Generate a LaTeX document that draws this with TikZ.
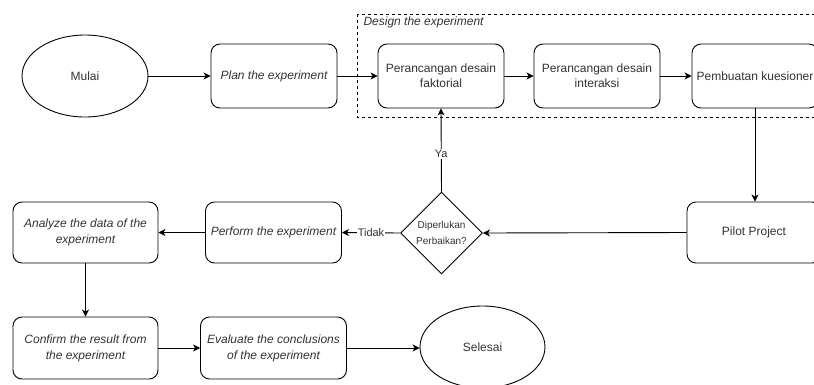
\documentclass[tikz,border=0pt]{standalone}
\usepackage{fontspec}
\setmainfont{Liberation Sans}
\usetikzlibrary{shapes.geometric,arrows.meta}
\definecolor{txt}{HTML}{333333}
\tikzset{
  every node/.style={font=\fontsize{12pt}{15pt}\selectfont, text=txt, align=center},
  boxstyle/.style={draw=black, line width=0.9pt, rounded corners=9pt, fill=white, inner sep=1pt},
  ellstyle/.style={draw=black, line width=0.9pt, ellipse, fill=white, inner sep=0pt},
  diastyle/.style={draw=black, line width=0.9pt, diamond, fill=white, inner sep=0pt, minimum width=82pt, minimum height=82pt, font=\fontsize{10pt}{16pt}\selectfont},
  conn/.style={draw=black, line width=0.9pt, -{Stealth[length=7pt,width=7pt,inset=2pt]}},
  lbl/.style={fill=white, inner sep=1pt, font=\fontsize{11pt}{13pt}\selectfont}
}
\begin{document}
\begin{tikzpicture}[x=1pt,y=-1pt]
\useasboundingbox (0,0) rectangle (814,384);
\clip (0,0) rectangle (814,384);
\fill[white] (0,0) rectangle (814,384);
% dashed group
\draw[dashed, line width=0.8pt] (357,14) rectangle (840,117);
\node[anchor=west, font=\fontsize{12pt}{14pt}\selectfont\itshape] (dlabel) at (360,22) {Design the experiment};
% nodes
\node[ellstyle, minimum width=126pt, minimum height=82pt] (mulai) at (85,76) {Mulai};
\node[boxstyle, minimum width=126pt, minimum height=64pt, font=\fontsize{12pt}{14pt}\selectfont\itshape] (plan) at (274,76) {Plan the experiment};
\node[boxstyle, minimum width=126pt, minimum height=64pt] (fak) at (441,76) {Perancangan desain\\faktorial};
\node[boxstyle, minimum width=126pt, minimum height=64pt] (inter) at (597,76) {Perancangan desain\\interaksi};
\node[boxstyle, minimum width=126pt, minimum height=64pt] (kues) at (755,76) {Pembuatan kuesioner};
\node[boxstyle, minimum width=134pt, minimum height=61pt] (pilot) at (754,232.5) {Pilot Project};
\node[diastyle] (dia) at (441.5,233) {Diperlukan\\Perbaikan?};
\node[boxstyle, minimum width=136pt, minimum height=61pt, font=\fontsize{12pt}{14pt}\selectfont\itshape] (perform) at (273.5,232.5) {Perform the experiment};
\node[boxstyle, minimum width=145pt, minimum height=61pt, font=\fontsize{12pt}{16pt}\selectfont\itshape] (analyze) at (85.5,232.5) {Analyze the data of the\\experiment};
\node[boxstyle, minimum width=145pt, minimum height=62pt, font=\fontsize{12pt}{16pt}\selectfont\itshape] (confirm) at (85.5,348) {Confirm the result from\\the experiment};
\node[boxstyle, minimum width=146pt, minimum height=62pt, font=\fontsize{12pt}{16pt}\selectfont\itshape] (evaluate) at (273.5,348) {Evaluate the conclusions\\of the experiment};
\node[ellstyle, minimum width=125pt, minimum height=82pt] (selesai) at (482.5,347) {Selesai};
% connectors
\draw[conn] (mulai) -- (plan);
\draw[conn] (plan) -- (fak);
\draw[conn] (fak) -- (inter);
\draw[conn] (inter) -- (kues);
\draw[conn] (kues.south) -- (kues.south |- pilot.north);
\draw[conn] (pilot.west) -- (dia.east);
\draw[conn] (dia.west) -- node[lbl] {Tidak} (perform.east);
\draw[conn] (dia.north) -- node[lbl, pos=0.45] {Ya} (fak.south);
\draw[conn] (perform.west) -- (analyze.east);
\draw[conn] (analyze.south) -- (confirm.north);
\draw[conn] (confirm.east) -- (evaluate.west);
\draw[conn] (evaluate.east) -- (evaluate.east -| selesai.west);
\end{tikzpicture}
\end{document}
